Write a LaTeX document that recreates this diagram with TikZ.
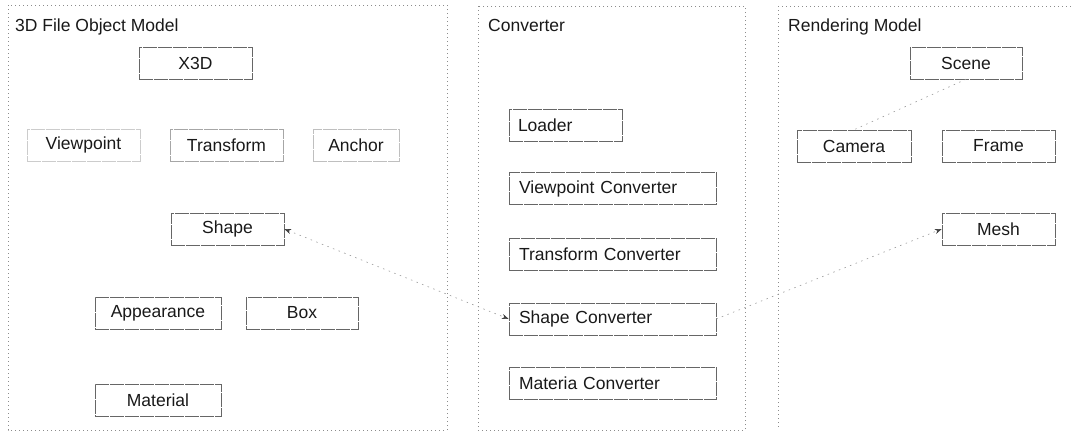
\documentclass[tikz,border=0pt]{standalone}
\usepackage{fontspec}
\setmainfont{Liberation Sans}
\usetikzlibrary{arrows.meta}
\begin{document}
\begin{tikzpicture}[x=1pt,y=-1pt,
  font=\fontsize{17.5}{21}\selectfont,
  obj/.style={draw=black!60, line width=0.5pt, dash pattern=on 14pt off 1pt,
    minimum height=32pt, inner sep=0pt, text=black!90},
  conv/.style={obj, minimum width=207pt, text width=187pt, align=left},
  panel/.style={draw=black!45, line width=0.5pt, dash pattern=on 1pt off 3pt},
  title/.style={anchor=base west, inner sep=0pt, text=black!90},
  link/.style={draw=black!40, line width=0.6pt, dash pattern=on 1.5pt off 4.5pt},
  tip/.style={-{Stealth[length=7pt,width=5pt,black!75]}}]
\useasboundingbox (0,0) rectangle (1073,434);
% panels
\draw[panel] (8,5) rectangle (447,430);
\draw[panel] (478,6) rectangle (745,430);
\draw[panel] (778,6) -- (1080,6);
\draw[panel] (778,6) -- (778,430);
% titles
\node[title] (t1) at (15,31) {3D File Object Model};
\node[title] (t2) at (488,31) {Converter};
\node[title] (t3) at (788,31) {Rendering Model};
% 3D file object model
\node[obj, minimum width=113pt] (x3d) at (195.5,63) {X3D};
\node[obj, minimum width=113pt, draw=black!20] (vp) at (83.5,145) {Viewpoint};
\node[obj, minimum width=113pt, draw=black!35] (tr) at (226.5,145) {Transform};
\node[obj, minimum width=86pt, draw=black!25] (an) at (356,145) {Anchor};
\node[obj, minimum width=113pt] (sh) at (227.5,229) {Shape};
\node[obj, minimum width=126pt] (ap) at (158,313) {Appearance};
\node[obj, minimum width=112pt] (bx) at (302,313) {Box};
\node[obj, minimum width=126pt] (ma) at (158,400) {Material};
% converter
\node[obj, minimum width=113pt, text width=95pt, align=left] (ld) at (565.5,125.5) {Loader};
\node[conv] (vc) at (612.5,188.5) {Viewpoint Converter};
\node[conv] (tc) at (612.5,254) {Transform Converter};
\node[conv] (sc) at (612.5,319) {Shape Converter};
\node[conv] (mc) at (612.5,383) {Materia Converter};
% rendering model
\node[obj, minimum width=112pt] (sn) at (966,63) {Scene};
\node[obj, minimum width=114pt] (cm) at (854,146) {Camera};
\node[obj, minimum width=113pt] (fr) at (998.5,146) {Frame};
\node[obj, minimum width=113pt] (me) at (998.5,229) {Mesh};
% connectors
\draw[link, {Stealth[length=7pt,width=5pt,black!75]}-{Stealth[length=7pt,width=5pt,black!75]}] (sh.east) -- (sc.west);
\draw[link, tip] (sc.east) -- (me.west);
\draw[link] (sn.south) -- (cm.north);
\end{tikzpicture}
\end{document}
